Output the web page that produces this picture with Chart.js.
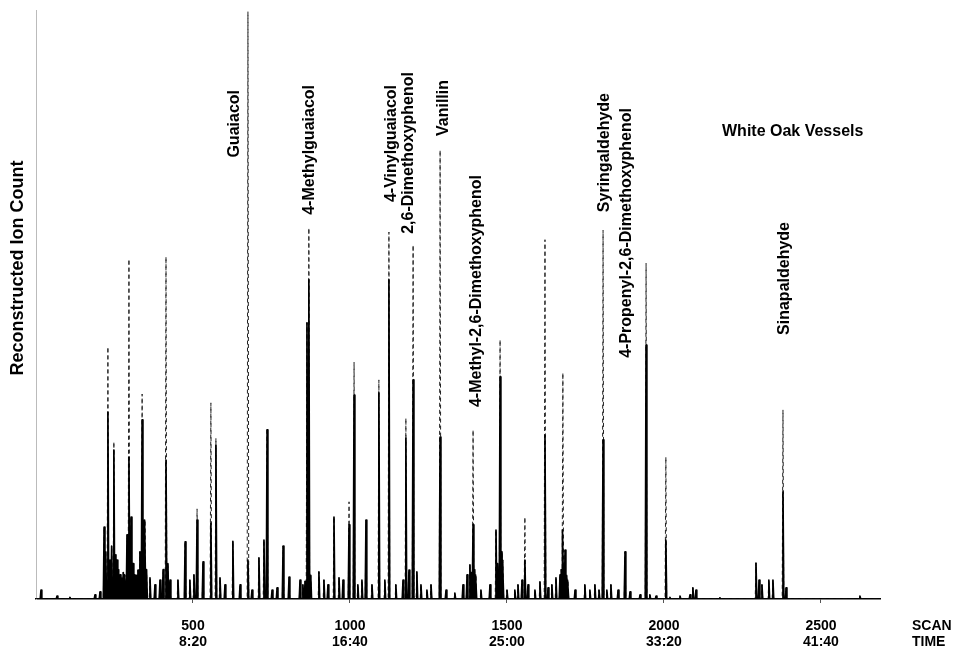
<!DOCTYPE html>
<html>
<head>
<meta charset="utf-8">
<script src="https://cdn.jsdelivr.net/npm/chart.js@4.4.1/dist/chart.umd.min.js"></script>
<style>
  html, body { margin: 0; padding: 0; background: #fff; }
  #wrap { width: 955px; height: 654px; position: relative; }
</style>
</head>
<body>
<div id="wrap"><canvas id="c"></canvas></div>
<script>
// ---- DATA ----
// scan number of each peak
const peakScans = [
  16,67,108,188,204,217,229,236,248,258,
  268,283,290,296,303,315,325,338,347,363,
  379,395,414,427,452,475,490,503,513,532,
  557,573,586,602,627,650,675,688,710,726,
  736,752,768,787,806,841,850,863,869,901,
  917,930,949,965,978,997,1013,1025,1038,1051,
  1070,1092,1111,1124,1146,1169,1178,1188,1201,1213,
  1226,1245,1258,1287,1306,1334,1360,1373,1382,1392,
  1401,1417,1446,1465,1478,1487,1500,1525,1535,1548,
  1557,1567,1589,1605,1621,1631,1643,1656,1669,1678,
  1685,1694,1717,1748,1764,1780,1793,1806,1818,1831,
  1854,1876,1892,1924,1943,1955,1975,2006,2019,2051,
  2083,2092,2102,2178,2293,2303,2312,2334,2347,2379,
  2389,2624
];
// full peak height (relative ion count, incl. faint upper trace)
const peakHeights = [
  1.5,0.5,0.3,0.7,1.2,12.2,42.8,6.6,26.7,6.6,
  4.1,4.1,10.9,57.7,13.9,4.1,4.9,34.8,13.4,3.6,
  2.4,3.2,58.1,3.2,3.2,9.7,3.2,4.1,15.3,6.3,
  33.3,27.3,3.6,2.4,9.8,2.4,99.7,1.5,7.0,10.0,
  29.0,1.5,1.9,9.0,3.7,3.2,2.4,46.9,63.0,4.6,
  3.2,2.4,13.9,3.6,3.2,16.5,40.2,2.4,3.2,13.4,
  2.4,37.2,3.2,62.3,2.4,3.2,30.7,4.9,60.1,4.6,
  2.4,1.5,2.4,76.2,1.5,1.0,2.4,4.1,5.8,28.7,
  4.1,1.5,2.4,11.7,44.0,6.6,1.5,1.5,2.4,3.2,
  13.9,2.4,1.5,2.9,61.0,1.9,2.4,3.6,4.1,38.4,
  8.3,3.2,1.5,2.4,1.5,2.4,1.5,62.6,1.5,2.4,
  1.5,8.0,1.2,0.7,57.0,0.7,0.5,24.1,0.3,0.5,
  0.7,1.9,1.5,0.2,6.1,3.2,2.4,3.2,3.2,32.1,
  1.9,0.5
];
// height of the solidly inked part of each peak
const inkHeights = [
  1.5,0.5,0.3,0.7,1.2,12.2,31.7,6.6,25.3,6.6,
  4.1,4.1,10.9,24.1,13.9,4.1,4.9,30.4,13.4,3.6,
  2.4,3.2,23.6,3.2,3.2,9.7,3.2,4.1,13.4,6.3,
  12.9,26.1,3.6,2.4,9.8,2.4,6.6,1.5,7.0,10.0,
  28.7,1.5,1.9,9.0,3.7,3.2,2.4,46.9,54.2,4.6,
  3.2,2.4,13.9,3.6,3.2,12.6,34.6,2.4,3.2,13.4,
  2.4,35.0,3.2,54.2,2.4,3.2,27.3,4.9,37.2,4.6,
  2.4,1.5,2.4,27.5,1.5,1.0,2.4,4.1,5.8,12.6,
  4.1,1.5,2.4,11.7,37.7,6.6,1.5,1.5,2.4,3.2,
  6.6,2.4,1.5,2.9,27.8,1.9,2.4,3.6,4.1,11.7,
  8.3,3.2,1.5,2.4,1.5,2.4,1.5,27.0,1.5,2.4,
  1.5,8.0,1.2,0.7,43.1,0.7,0.5,10.0,0.3,0.5,
  0.7,1.9,1.5,0.2,6.1,3.2,2.4,3.2,3.2,18.2,
  1.9,0.5
];
// small unresolved peaks ("grass") in the crowded regions
const grassScans = [
  222,241,252,263,274,278,299,309,320,331,343,352,
  405,420,857,875,1386,1397,1470,1484,1673,1690
];
const grassHeights = [
  8.0,9.0,7.5,5.0,3.5,4.5,11.0,6.0,4.0,8.0,10.0,5.0,
  5.0,6.0,3.0,4.0,4.5,5.0,6.0,8.0,5.0,4.0
];
// identified compounds and the scan of their peak
const compoundNames = [
  'Guaiacol','4-Methylguaiacol','4-Vinylguaiacol','2,6-Dimethoxyphenol','Vanillin',
  '4-Methyl-2,6-Dimethoxyphenol','Syringaldehyde','4-Propenyl-2,6-Dimethoxyphenol','Sinapaldehyde'
];
const compoundScans = [675, 869, 1124, 1201, 1287, 1392, 1806, 1943, 2379];
// axis ticks
const scanTicks = [500, 1000, 1500, 2000, 2500];
const timeTicks = ['8:20', '16:40', '25:00', '33:20', '41:40'];
const scanMax = 2688;
const chartTitle = 'White Oak Vessels';
const yTitle = 'Reconstructed Ion Count';

// ---- STYLE / LAYOUT ----
const FONT = '"Liberation Sans", Arial, Helvetica, sans-serif';
const HALF_W = 2.5;             // half width of a peak in scans (drawing style)
const labelDx = [-13, 1, 3, -5, 3, 4, 2, -19, 2];     // px offset of label from peak
const labelTop = [90, 85, 85, 72, 80, 175, 93, 108, 222]; // px top end of label

function buildTrace(heights) {
  const peaks = [];
  for (let i = 0; i < peakScans.length; i++) peaks.push([peakScans[i], heights[i]]);
  for (let i = 0; i < grassScans.length; i++) peaks.push([grassScans[i], grassHeights[i]]);
  peaks.sort((a, b) => a[0] - b[0]);
  const pts = [{x: 0, y: 0}];
  for (const [s, h] of peaks) {
    pts.push({x: s - HALF_W, y: 0});
    pts.push({x: s, y: h});
    pts.push({x: s + HALF_W, y: 0});
  }
  pts.push({x: scanMax, y: 0});
  return pts;
}

const textPlugin = {
  id: 'texts',
  afterDraw(chart) {
    const ctx = chart.ctx;
    const xs = chart.scales.x;
    ctx.save();
    ctx.fillStyle = '#000';
    ctx.font = 'bold 16px ' + FONT;
    ctx.textBaseline = 'middle';
    ctx.textAlign = 'right';
    for (let i = 0; i < compoundNames.length; i++) {
      const x = xs.getPixelForValue(compoundScans[i]) + labelDx[i];
      ctx.save();
      ctx.translate(x, labelTop[i]);
      ctx.rotate(-Math.PI / 2);
      ctx.fillText(compoundNames[i], 0, 0);
      ctx.restore();
    }
    // title
    ctx.textAlign = 'left';
    ctx.fillText(chartTitle, 722, 132);
    // y title
    ctx.font = 'bold 18px ' + FONT;
    ctx.save();
    ctx.translate(18, 268);
    ctx.rotate(-Math.PI / 2);
    ctx.textAlign = 'center';
    ctx.fillText(yTitle, 0, 0);
    ctx.restore();
    // axis unit labels
    ctx.font = 'bold 14px ' + FONT;
    ctx.textAlign = 'left';
    ctx.fillText('SCAN', 912, 626);
    ctx.fillText('TIME', 912, 642);
    ctx.restore();
  }
};

new Chart(document.getElementById('c'), {
  type: 'line',
  data: {
    datasets: [
      {
        label: 'ink',
        data: buildTrace(inkHeights),
        borderColor: '#000',
        borderWidth: 1.7,
        pointRadius: 0,
        tension: 0,
        borderJoinStyle: 'round',
        order: 1
      },
      {
        label: 'full',
        data: buildTrace(peakHeights),
        borderColor: '#222',
        borderWidth: 1,
        borderDash: [4, 3],
        pointRadius: 0,
        tension: 0,
        borderJoinStyle: 'round',
        order: 2
      }
    ]
  },
  options: {
    responsive: true,
    maintainAspectRatio: false,
    animation: false,
    events: [],
    layout: { padding: { left: 36, right: 75, top: 10, bottom: 0 } },
    plugins: { legend: { display: false }, tooltip: { enabled: false }, title: { display: false } },
    scales: {
      x: {
        type: 'linear',
        min: 0,
        max: scanMax,
        afterBuildTicks(scale) { scale.ticks = scanTicks.map(v => ({ value: v })); },
        afterFit(scale) { scale.height = 55; },
        ticks: {
          autoSkip: false,
          maxRotation: 0,
          padding: 15,
          color: '#000',
          font: { family: FONT, size: 14, weight: 'bold', lineHeight: 1.15 },
          callback(v) {
            const i = scanTicks.indexOf(v);
            return i >= 0 ? [String(v), timeTicks[i]] : '';
          }
        },
        grid: { display: true, drawOnChartArea: false, drawTicks: true, tickLength: 4, color: '#555', lineWidth: 1 },
        border: { display: true, color: '#000', width: 1.5 }
      },
      y: {
        type: 'linear',
        min: 0,
        max: 100,
        afterFit(scale) { scale.width = 0; },
        ticks: { display: false },
        grid: { display: false, drawTicks: false },
        border: { display: true, color: '#bbb', width: 1, dash: [2, 6] }
      }
    }
  },
  plugins: [textPlugin]
});
</script>
</body>
</html>
